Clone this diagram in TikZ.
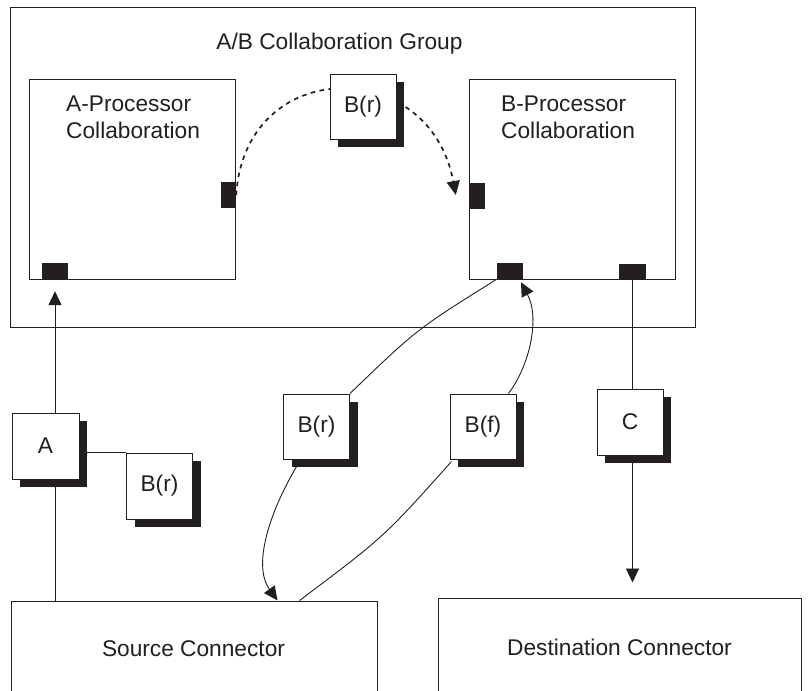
\documentclass[tikz,border=0pt]{standalone}
\usepackage{fontspec}
\setmainfont{Liberation Sans}
\usetikzlibrary{arrows.meta,shadows,calc}
\definecolor{ink}{HTML}{231F20}
\pgfdeclarelayer{backlayer}
\pgfdeclarelayer{wirelayer}
\pgfsetlayers{backlayer,wirelayer,main}
\begin{document}
\begin{tikzpicture}[x=1pt,y=-1pt,
  every node/.style={font=\fontsize{22.7}{26.7}\selectfont, text=ink},
  boxframe/.style={draw=ink, line width=1pt, fill=white, inner sep=0pt},
  portbox/.style={fill=ink, draw=none, inner sep=0pt},
  msg/.style={boxframe, minimum width=66pt, minimum height=65pt,
    drop shadow={shadow xshift=8pt, shadow yshift=-8pt, fill=ink, opacity=1}},
  conn/.style={draw=ink, line width=0.9pt},
  dashconn/.style={draw=ink, line width=1.7pt, dash pattern=on 4.5pt off 4.5pt},
  arr/.style={-{Triangle[length=14pt,width=13pt]}},
  lbl/.style={inner sep=0pt}
]
\useasboundingbox (0,0) rectangle (809,691);

\begin{pgfonlayer}{backlayer}
% group and collaborations
\node[boxframe, minimum width=685pt, minimum height=320pt] (grp) at (352.5,167) {};
\node[lbl, anchor=base] (grpt) at (339.5,49.3) {A/B Collaboration Group};
\node[boxframe, minimum width=206pt, minimum height=200pt] (ab) at (132,179) {};
\node[boxframe, minimum width=206pt, minimum height=200pt] (bb) at (572,179) {};
\node[lbl, anchor=base west] (al1) at (66,111.7) {A-Processor};
\node[lbl, anchor=base west] (al2) at (66,138.3) {Collaboration};
\node[lbl, anchor=base west] (bl1) at (501,111.7) {B-Processor};
\node[lbl, anchor=base west] (bl2) at (501,138.3) {Collaboration};
% source and destination
\node[boxframe, minimum width=366pt, minimum height=90pt] (src) at (194,646) {};
\node[lbl, anchor=base] (srct) at (193.5,656) {Source Connector};
\node[boxframe, minimum width=363pt, minimum height=93pt] (dst) at (619.5,644.5) {};
\node[lbl, anchor=base] (dstt) at (619.5,655) {Destination Connector};
\end{pgfonlayer}

% ports
\node[portbox, minimum width=26pt, minimum height=16pt] (aport) at (55,271) {};
\node[portbox, minimum width=15pt, minimum height=26pt] (aside) at (228.5,195) {};
\node[portbox, minimum width=16pt, minimum height=26pt] (bside) at (477,196) {};
\node[portbox, minimum width=26pt, minimum height=16pt] (bport1) at (510,271) {};
\node[portbox, minimum width=27pt, minimum height=15pt] (bport2) at (632.5,271.5) {};

% messages
\node[msg] (brtop) at (363,106.5) {B(r)};
\node[msg, minimum width=67pt, minimum height=66pt] (a) at (45.5,446) {A};
\node[msg, minimum height=66pt] (brsmall) at (159.5,486) {B(r)};
\node[msg] (brmid) at (316.5,426.5) {B(r)};
\node[msg] (bf) at (483,426.5) {B(f)};
\node[msg, minimum height=66pt] (c) at (630,422) {C};

% free ends
\coordinate (btip) at ($(bside.west)+(-13,-1)$);
\coordinate (atip) at ($(aport.south)+(0,12)$);
\coordinate (s1) at ($(src.north west)+(267,0)$);
\coordinate (s2) at ($(src.north west)+(289,0)$);
\coordinate (b1tip) at ($(bport1.south)+(11,3)$);
\coordinate (ctip) at ($(dst.north -| bport2)+(0,-15)$);

\begin{pgfonlayer}{wirelayer}
\draw[dashconn, arr] (aside.east) .. controls (245,55) and (430,55) .. (btip);
\draw[conn, arr] (src.north -| aport) -- (atip);
\draw[conn] (bport1.south west) .. controls (417,329) .. (brmid.north east);
\draw[conn, arr] ($(brmid.south west)+(16,3)$) .. controls (270,510) and (252,565) .. (s1);
\draw[conn] ($(bf.south west)+(2,2)$) .. controls (384,537) .. (s2);
\draw[conn, arr] ($(bf.north east)+(-8,0)$) .. controls (530,365) and (540,318) .. (b1tip);
\draw[conn] (bport2.south) -- (bport2.south |- c.north);
\draw[conn, arr] (c.south -| bport2) -- (ctip);
\draw[conn] (a.east |- brsmall.north) -- (brsmall.north west);
\end{pgfonlayer}
\end{tikzpicture}
\end{document}
